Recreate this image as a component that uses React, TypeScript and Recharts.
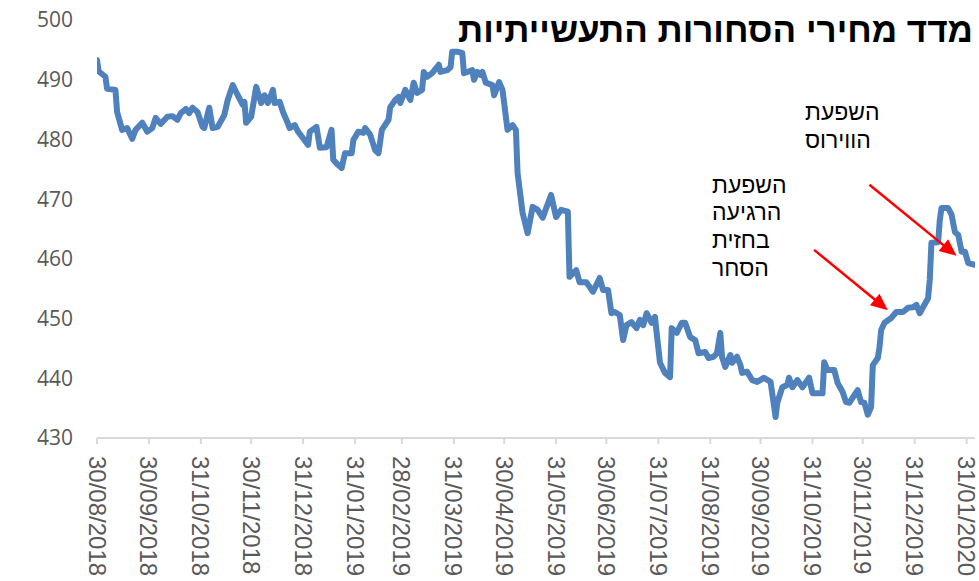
import React from 'react';
import { LineChart, Line, XAxis, YAxis, ReferenceLine } from 'recharts';

const dates = [
  '2018-08-30','2018-08-31','2018-09-04','2018-09-05','2018-09-10','2018-09-11','2018-09-14','2018-09-17','2018-09-20','2018-09-22',
  '2018-09-26','2018-09-29','2018-10-02','2018-10-04','2018-10-07','2018-10-11','2018-10-14','2018-10-17','2018-10-19','2018-10-22',
  '2018-10-24','2018-10-26','2018-10-29','2018-11-01','2018-11-02','2018-11-05','2018-11-07','2018-11-10','2018-11-14','2018-11-16',
  '2018-11-19','2018-11-22','2018-11-25','2018-11-26','2018-11-27','2018-11-30','2018-12-03','2018-12-06','2018-12-08','2018-12-10',
  '2018-12-13','2018-12-14','2018-12-17','2018-12-19','2018-12-21','2018-12-23','2018-12-26','2018-12-28','2018-12-31','2019-01-03',
  '2019-01-04','2019-01-08','2019-01-10','2019-01-14','2019-01-17','2019-01-18','2019-01-21','2019-01-23','2019-01-25','2019-01-29',
  '2019-01-30','2019-02-02','2019-02-05','2019-02-06','2019-02-09','2019-02-12','2019-02-14','2019-02-16','2019-02-20','2019-02-21',
  '2019-02-24','2019-02-26','2019-02-27','2019-03-02','2019-03-05','2019-03-07','2019-03-09','2019-03-12','2019-03-13','2019-03-15',
  '2019-03-18','2019-03-22','2019-03-23','2019-03-27','2019-03-29','2019-03-30','2019-04-02','2019-04-05','2019-04-06','2019-04-08',
  '2019-04-11','2019-04-12','2019-04-14','2019-04-16','2019-04-17','2019-04-19','2019-04-23','2019-04-24','2019-04-27','2019-04-29',
  '2019-05-02','2019-05-05','2019-05-07','2019-05-08','2019-05-11','2019-05-14','2019-05-17','2019-05-20','2019-05-23','2019-05-28',
  '2019-05-31','2019-06-03','2019-06-07','2019-06-08','2019-06-12','2019-06-14','2019-06-18','2019-06-22','2019-06-26','2019-06-28',
  '2019-07-01','2019-07-03','2019-07-05','2019-07-08','2019-07-10','2019-07-12','2019-07-15','2019-07-18','2019-07-20','2019-07-22',
  '2019-07-24','2019-07-27','2019-07-29','2019-07-30','2019-08-01','2019-08-04','2019-08-07','2019-08-08','2019-08-11','2019-08-14',
  '2019-08-16','2019-08-19','2019-08-22','2019-08-24','2019-08-28','2019-08-30','2019-09-02','2019-09-04','2019-09-06','2019-09-07',
  '2019-09-09','2019-09-12','2019-09-13','2019-09-16','2019-09-18','2019-09-19','2019-09-22','2019-09-25','2019-09-28','2019-10-02',
  '2019-10-06','2019-10-09','2019-10-10','2019-10-13','2019-10-16','2019-10-17','2019-10-19','2019-10-22','2019-10-25','2019-10-29',
  '2019-10-31','2019-11-03','2019-11-06','2019-11-07','2019-11-09','2019-11-13','2019-11-15','2019-11-18','2019-11-20','2019-11-22',
  '2019-11-25','2019-11-27','2019-11-29','2019-12-01','2019-12-03','2019-12-05','2019-12-06','2019-12-09','2019-12-10','2019-12-11',
  '2019-12-13','2019-12-17','2019-12-20','2019-12-24','2019-12-27','2019-12-30','2020-01-01','2020-01-03','2020-01-05','2020-01-08',
  '2020-01-09','2020-01-10','2020-01-14','2020-01-15','2020-01-16','2020-01-20','2020-01-22','2020-01-24','2020-01-26','2020-01-28',
  '2020-01-30','2020-02-01','2020-02-05',
];

const values = [
  493.3,491.4,490.5,488.5,488.3,484.6,481.6,481.9,480.1,481.6,
  482.8,481.3,481.9,483.6,482.6,483.8,483.9,483.3,484.4,485.1,
  484.4,485.3,484.6,482.1,481.9,485.3,481.9,482.1,484.1,486.6,
  489.1,487.4,485.8,486.3,482.8,483.8,488.8,486.1,487.4,486.1,
  488.3,486.1,486.3,484.6,483.3,481.9,482.4,481.3,480.2,479.1,
  481.3,482.1,478.6,478.7,481.6,476.6,475.7,475.2,477.7,477.7,
  479.9,481.3,481.1,481.9,480.8,478.2,477.7,481.6,483.3,485.4,
  486.6,487.1,486.1,488.3,486.6,489.5,487.8,488.3,491.3,490.5,
  491.1,492.5,491.3,491.6,492.1,494.7,494.7,494.5,491.1,491.3,
  491.6,490.0,491.3,490.8,491.3,489.5,489.1,487.4,489.6,488.3,
  481.6,482.4,481.6,474.4,467.7,464.3,468.7,468.2,466.9,470.7,
  467.0,468.2,467.9,457.0,458.1,456.1,456.1,454.5,456.8,454.8,
  454.8,450.9,451.1,450.6,446.4,448.9,449.4,448.4,449.8,448.9,
  450.9,449.3,450.3,447.6,442.6,440.9,440.2,448.4,447.6,449.3,
  449.3,446.9,446.4,444.2,444.4,443.4,443.6,444.2,447.6,443.6,
  441.9,443.9,442.6,443.6,442.2,440.9,441.1,439.7,439.4,440.1,
  439.4,433.5,435.9,438.5,438.9,440.1,438.5,439.7,438.5,440.1,
  437.5,437.5,437.5,442.7,441.4,441.4,439.2,437.7,436.0,435.9,
  437.2,438.0,436.0,435.9,433.9,435.2,442.2,443.4,445.2,448.1,
  449.3,450.1,451.1,451.1,451.8,451.9,452.3,450.9,451.9,453.4,
  456.5,462.7,462.8,466.5,468.5,468.5,467.4,464.5,464.0,461.2,
  461.2,459.3,459.0,
];

const tickDates = [
  '2018-08-30','2018-09-30','2018-10-31','2018-11-30','2018-12-31','2019-01-31','2019-02-28','2019-03-31','2019-04-30',
  '2019-05-31','2019-06-30','2019-07-31','2019-08-31','2019-09-30','2019-10-31','2019-11-30','2019-12-31','2020-01-31',
];
const yTicks = [430, 440, 450, 460, 470, 480, 490, 500];

const title = 'מדד מחירי הסחורות התעשייתיות';
const noteVirus = ['השפעת', 'הווירוס'];
const noteTrade = ['השפעת', 'הרגיעה', 'בחזית', 'הסחר'];

const arrowStarts = [['2019-11-01', 461.5], ['2019-12-04', 472.4]];
const arrowEnds = [['2019-12-15', 451.4], ['2020-01-25', 460.5]];

const toTs = (s: string) => {
  const [y, m, d] = s.split('-').map(Number);
  return Date.UTC(y, m - 1, d);
};
const fmt = (t: number) => {
  const d = new Date(t);
  const dd = String(d.getUTCDate()).padStart(2, '0');
  const mm = String(d.getUTCMonth() + 1).padStart(2, '0');
  return `${dd}/${mm}/${d.getUTCFullYear()}`;
};

const data = dates.map((s, i) => ({ t: toTs(s), v: values[i] }));
const xDomain = [toTs('2018-08-30'), toTs('2020-02-05')];

const XTick = (props: any) => {
  const { x, y, payload } = props;
  return (
    <g transform={`translate(${x},${y})`}>
      <text
        transform="rotate(90)"
        x={10}
        y={0}
        textAnchor="start"
        dominantBaseline="central"
        fontSize={24}
        fill="#595959"
        fontFamily="'Liberation Sans', Arial, sans-serif"
      >
        {fmt(payload.value)}
      </text>
    </g>
  );
};

const Arrow = (props: any) => {
  const { x1, y1, x2, y2 } = props;
  const dx = x2 - x1;
  const dy = y2 - y1;
  const len = Math.sqrt(dx * dx + dy * dy);
  const ux = dx / len;
  const uy = dy / len;
  const head = 17;
  const half = 7.5;
  const bx = x2 - ux * head;
  const by = y2 - uy * head;
  const px = -uy;
  const py = ux;
  return (
    <g>
      <line x1={x1} y1={y1} x2={bx + ux * 2} y2={by + uy * 2} stroke="#ff0000" strokeWidth={2.5} />
      <polygon
        points={`${x2},${y2} ${bx + px * half},${by + py * half} ${bx - px * half},${by - py * half}`}
        fill="#ff0000"
      />
    </g>
  );
};

const textStyle: React.CSSProperties = {
  position: 'absolute',
  direction: 'rtl',
  fontFamily: "'Liberation Sans', Arial, 'DejaVu Sans', sans-serif",
  color: '#000',
  whiteSpace: 'nowrap',
};

export default function App() {
  return (
    <div style={{ position: 'absolute', left: 0, top: 0, width: 979, height: 581, background: '#fff' }}>
      <LineChart width={979} height={581} data={data} margin={{ top: 20, right: 4, left: 0, bottom: 13 }}>
        <XAxis
          dataKey="t"
          type="number"
          scale="linear"
          domain={xDomain}
          ticks={tickDates.map(toTs)}
          tick={<XTick />}
          height={130}
          interval={0}
          axisLine={{ stroke: '#d9d9d9', strokeWidth: 2 }}
          tickLine={{ stroke: '#d9d9d9', strokeWidth: 2 }}
          tickSize={6}
          allowDataOverflow
        />
        <YAxis
          type="number"
          domain={[430, 500]}
          ticks={yTicks}
          width={97}
          axisLine={false}
          tickLine={false}
          tickMargin={18}
          interval={0}
          tick={{ fontSize: 21, fill: '#595959', fontFamily: "'Open Sans', sans-serif" }}
        />
        <Line
          type="linear"
          dataKey="v"
          stroke="#4f81bd"
          strokeWidth={6}
          dot={false}
          activeDot={false}
          strokeLinejoin="round"
          strokeLinecap="round"
          isAnimationActive={false}
        />
        {arrowStarts.map((s, i) => (
          <ReferenceLine
            key={i}
            segment={[
              { x: toTs(s[0] as string), y: s[1] as number },
              { x: toTs(arrowEnds[i][0] as string), y: arrowEnds[i][1] as number },
            ]}
            shape={<Arrow />}
            ifOverflow="visible"
          />
        ))}
      </LineChart>
      <div style={{ ...textStyle, right: 6, top: 8, fontSize: 35, fontWeight: 'bold', lineHeight: '44px' }}>{title}</div>
      <div style={{ ...textStyle, left: 805, top: 97.5, fontSize: 23, lineHeight: '28px', textAlign: 'left' }}>
        {noteVirus.map((l, i) => (
          <div key={i}>{l}</div>
        ))}
      </div>
      <div style={{ ...textStyle, left: 712, top: 171.5, fontSize: 23, lineHeight: '27.8px', textAlign: 'left' }}>
        {noteTrade.map((l, i) => (
          <div key={i}>{l}</div>
        ))}
      </div>
    </div>
  );
}
